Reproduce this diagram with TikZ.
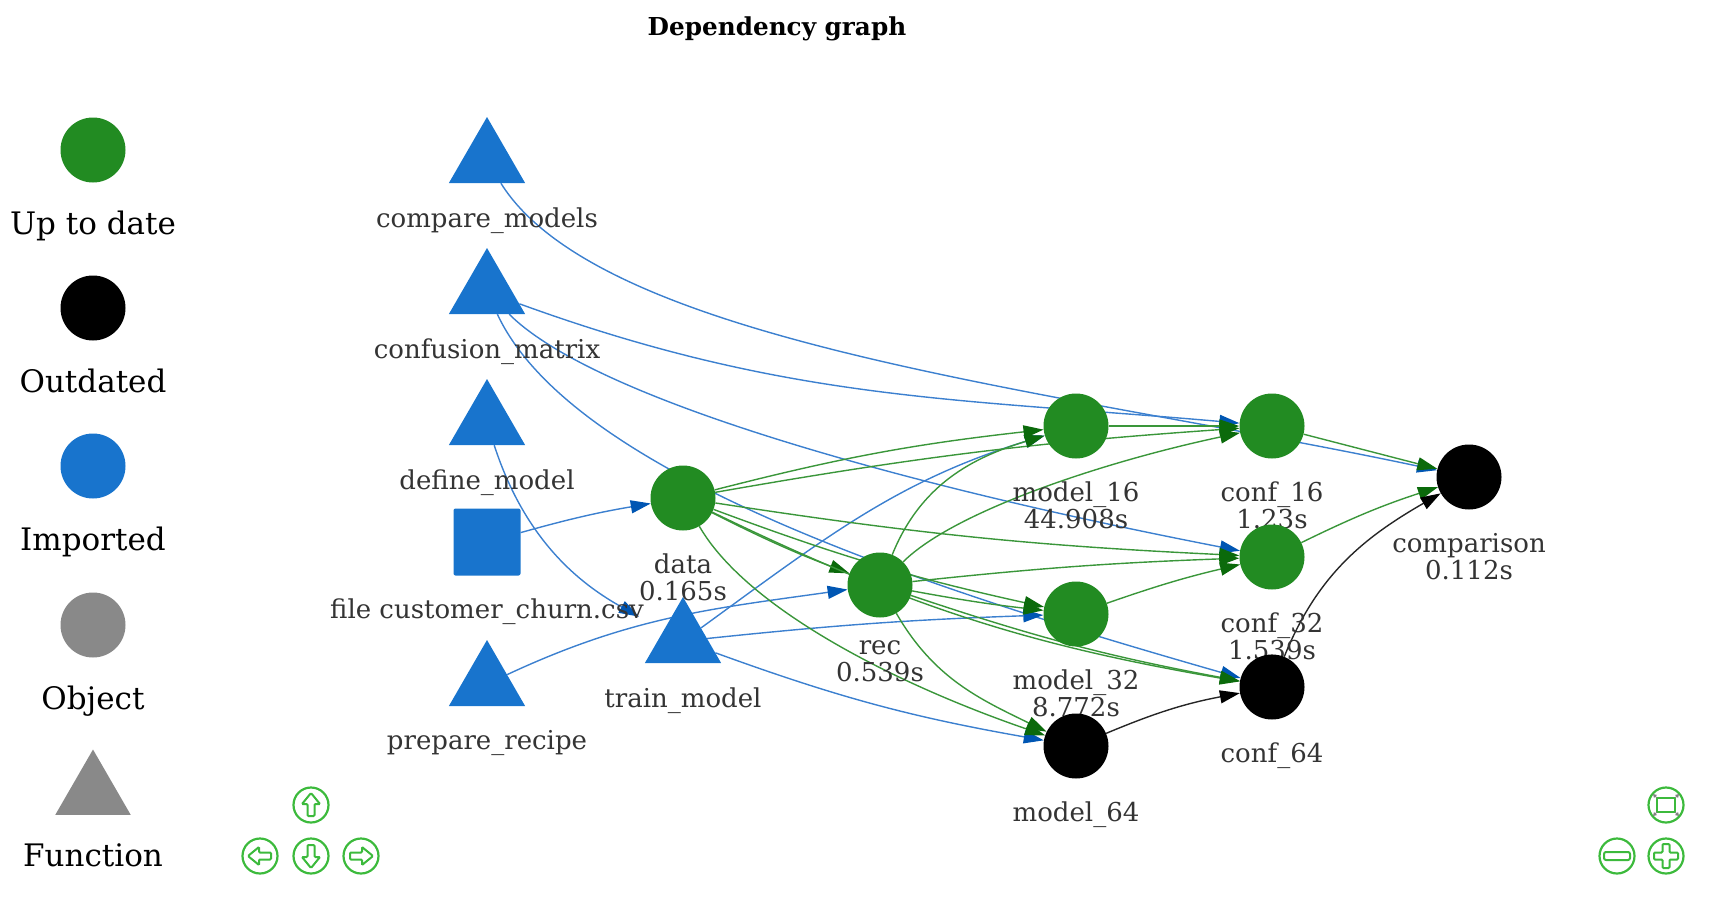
\documentclass[tikz,border=0pt]{standalone}
\usepackage{fontspec}
\setmainfont{DejaVu Serif}
\usetikzlibrary{shapes.geometric,arrows.meta,backgrounds}

\definecolor{uptodate}{HTML}{228B22}
\definecolor{imported}{HTML}{1874CD}
\definecolor{objgray}{HTML}{898989}
\definecolor{labgray}{HTML}{343434}
\definecolor{gline}{HTML}{3A963A}
\definecolor{ghead}{HTML}{0B6A0B}
\definecolor{bline}{HTML}{3C80CF}
\definecolor{bhead}{HTML}{0056B3}
\definecolor{navgreen}{HTML}{3CBA3C}

% arrow buttons of the widget
\newcommand{\navarrow}[3]{%
  \draw[navbtn] (#1,#2) circle (17.5pt);
  \draw[navbtn,line width=2pt,rounded corners=1pt,shift={(#1,#2)},rotate=#3]
    (0,-12) -- (9,-1) -- (3.5,-1) -- (3.5,11) -- (-3.5,11) -- (-3.5,-1) -- (-9,-1) -- cycle;}

\begin{document}
\begin{tikzpicture}[x=1pt,y=-1pt,
  lbltext/.style={font=\fontsize{26}{27}\selectfont,text=labgray,align=center,inner sep=0pt,execute at begin node=\strut},
  lbl/.style={lbltext,yshift=-23pt},
  flbl/.style={lbltext,yshift=-24pt},
  leglbl/.style={font=\fontsize{31}{33}\selectfont,text=black,align=center,inner sep=0pt,execute at begin node=\strut,yshift=-28pt},
  target/.style={circle,minimum size=65pt,inner sep=0pt},
  func/.style={regular polygon,regular polygon sides=3,minimum size=88pt,inner sep=0pt},
  uptd/.style={target,fill=uptodate},
  outd/.style={target,fill=black},
  impf/.style={func,fill=imported},
  gedge/.style={draw=gline,line width=1.4pt,-{Triangle[length=20pt,width=13pt,color=ghead]}},
  bedge/.style={draw=bline,line width=1.4pt,-{Triangle[length=20pt,width=13pt,color=bhead]}},
  kedge/.style={draw=black!85,line width=1.4pt,-{Triangle[length=20pt,width=13pt,color=black]}},
  navbtn/.style={draw=navgreen,line width=2.2pt}]
\useasboundingbox (0,0) rectangle (1711,905);

\node[anchor=base,font=\bfseries\fontsize{24.7}{26}\selectfont] (title) at (777,35) {Dependency graph};

% legend
\node[target,fill=uptodate,label={[leglbl]below:Up to date}] (legup) at (93,150) {};
\node[target,fill=black,label={[leglbl]below:Outdated}] (legout) at (93,308) {};
\node[target,fill=imported,label={[leglbl]below:Imported}] (legimp) at (93,466) {};
\node[target,fill=objgray,label={[leglbl]below:Object}] (legobj) at (93,625) {};
\node[func,minimum size=87pt,fill=objgray,label={[leglbl]below:Function}] (legfun) at (93,793) {};

% imported
\node[impf,label={[flbl]below:compare\_models}] (cmpmod) at (487,161) {};
\node[impf,label={[flbl]below:confusion\_matrix}] (confmat) at (487,292) {};
\node[impf,label={[flbl]below:define\_model}] (defmod) at (487,423) {};
\node[rectangle,rounded corners=2pt,minimum size=67pt,inner sep=0pt,fill=imported,
  label={[lbl]below:file customer\_churn.csv}] (csvfile) at (487,542) {};
\node[impf,label={[flbl]below:prepare\_recipe}] (preprec) at (487,684) {};
\node[impf,label={[flbl]below:train\_model}] (trainmod) at (683,641) {};

% targets
\node[uptd,label={[lbl]below:{data\\0.165s}}] (data) at (683,498) {};
\node[uptd,label={[lbl]below:{rec\\0.539s}}] (rec) at (880,585) {};
\node[uptd,label={[lbl]below:{model\_16\\44.908s}}] (model16) at (1076,426) {};
\node[uptd,label={[lbl]below:{model\_32\\8.772s}}] (model32) at (1076,614) {};
\node[outd,label={[lbl]below:model\_64}] (model64) at (1076,746) {};
\node[uptd,label={[lbl]below:{conf\_16\\1.23s}}] (conf16) at (1272,426) {};
\node[uptd,label={[lbl]below:{conf\_32\\1.539s}}] (conf32) at (1272,557) {};
\node[outd,label={[lbl]below:conf\_64}] (conf64) at (1272,687) {};
\node[outd,label={[lbl]below:{comparison\\0.112s}}] (comparison) at (1469,477) {};

\begin{scope}[on background layer]
% imported -> targets
\draw[bedge] (csvfile) to[bend left=3] (data);
\draw[bedge,shorten >=28pt] (defmod) to[out=-72,in=151] (trainmod);
\draw[bedge] (cmpmod) to[out=-58,in=168,out looseness=0.5,in looseness=1] (comparison);
\draw[bedge] (confmat) to[out=-20,in=175] (conf16);
\draw[bedge] (confmat) to[out=-45,in=169,out looseness=0.4,in looseness=1.15] (conf32);
\draw[bedge] (confmat) to[out=-65,in=164,out looseness=0.55,in looseness=1] (conf64);
\draw[bedge] (preprec) to[out=25,in=188] (rec);
\draw[bedge] (trainmod) to[out=36,in=197] (model16);
\draw[bedge] (trainmod) to[bend left=2] (model32);
\draw[bedge] (trainmod) to[out=-20,in=170] (model64);
% data
\draw[gedge] (data) to[bend right=3] (rec);
\draw[gedge] (data) to[bend left=4] (model16);
\draw[gedge] (data) to[bend right=4] (model32);
\draw[gedge] (data) to[out=-60,in=161,out looseness=0.6,in looseness=1] (model64);
\draw[gedge] (data) to[bend left=3] (conf16);
\draw[gedge] (data) to[bend right=3] (conf32);
\draw[gedge] (data) to[bend right=8] (conf64);
% rec
\draw[gedge] (rec) to[out=68,in=197] (model16);
\draw[gedge] (rec) to[bend right=2] (model32);
\draw[gedge] (rec) to[out=-60,in=154] (model64);
\draw[gedge] (rec) to[out=45,in=192,out looseness=0.5,in looseness=1] (conf16);
\draw[gedge] (rec) to[bend left=2] (conf32);
\draw[gedge] (rec) to[bend right=4] (conf64);
% models -> confs -> comparison
\draw[gedge] (model16) -- (conf16);
\draw[gedge] (model32) to[bend left=3] (conf32);
\draw[kedge] (model64) to[bend left=6] (conf64);
\draw[gedge] (conf16) -- (comparison);
\draw[gedge] (conf32) to[bend left=4] (comparison);
\draw[kedge] (conf64) to[out=68,in=210] (comparison);
\end{scope}

% navigation buttons
\navarrow{311}{805}{0}
\navarrow{260}{856}{90}
\navarrow{311}{856}{180}
\navarrow{361}{856}{-90}
\draw[navbtn] (1666,805) circle (17.5pt);
\draw[navbtn,line width=2pt] (1657,798) rectangle (1675,812);
\foreach \sx/\sy in {1/1,1/-1,-1/1,-1/-1}
  \draw[gray,line width=1pt,-{Triangle[length=3.5pt,width=4pt]}] (1666+9*\sx,805+7*\sy) -- +(4*\sx,4*\sy);
\draw[navbtn] (1617,856) circle (17.5pt);
\draw[navbtn,line width=2pt,rounded corners=2pt] (1604,852) rectangle (1630,860);
\draw[navbtn] (1666,856) circle (17.5pt);
\draw[navbtn,line width=2pt,rounded corners=1pt,shift={(1666,856)}]
  (-3.5,-12) -- (3.5,-12) -- (3.5,-3.5) -- (12,-3.5) -- (12,3.5) -- (3.5,3.5) -- (3.5,12) -- (-3.5,12)
  -- (-3.5,3.5) -- (-12,3.5) -- (-12,-3.5) -- (-3.5,-3.5) -- cycle;
\end{tikzpicture}
\end{document}
